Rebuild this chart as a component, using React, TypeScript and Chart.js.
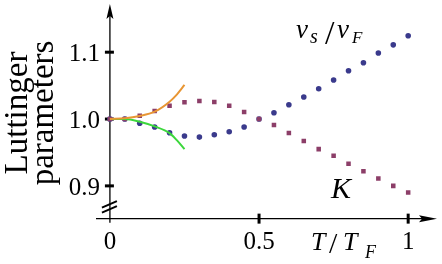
import React, { useEffect, useRef } from "react";
import { Chart, registerables } from "chart.js";

Chart.register(...registerables);

const temps = [0, 0.05, 0.1, 0.15, 0.2, 0.25, 0.3, 0.35, 0.4, 0.45, 0.5, 0.55, 0.6, 0.65, 0.7, 0.75, 0.8, 0.85, 0.9, 0.95, 1.0];
const velocityRatio = [1.0, 1.0, 0.9936, 0.988, 0.9795, 0.9746, 0.973, 0.9765, 0.981, 0.988, 1.0, 1.0094, 1.0214, 1.033, 1.0453, 1.0583, 1.0722, 1.0842, 1.0987, 1.111, 1.1246];
const luttingerK = [1.0, 1.0, 1.005, 1.012, 1.02, 1.025, 1.027, 1.0255, 1.02, 1.0105, 1.0, 0.991, 0.979, 0.967, 0.955, 0.945, 0.933, 0.922, 0.911, 0.9, 0.89];

const curveT = [0, 0.05, 0.1, 0.15, 0.2, 0.225, 0.25];
const orangeCurve = [1.0, 1.001, 1.0045, 1.011, 1.026, 1.037, 1.051];
const greenCurve = [1.0, 1.0, 0.996, 0.989, 0.979, 0.968, 0.955];

const yTitleLines = ["Luttinger", "parameters"];
const yTicks = [0.9, 1.0, 1.1];
const yTickLabels = ["0.9", "1.0", "1.1"];
const xTickLabels = [
  { v: 0, t: "0", tick: false },
  { v: 0.5, t: "0.5", tick: true },
  { v: 1, t: "1", tick: true },
];

const SERIF = '"Liberation Serif", "Times New Roman", "DejaVu Serif", serif';

function drawText(
  ctx: CanvasRenderingContext2D,
  text: string,
  x: number,
  y: number,
  size: number,
  italic: boolean,
  align: CanvasTextAlign
) {
  ctx.save();
  ctx.font = `${italic ? "italic " : ""}${size}px ${SERIF}`;
  ctx.textAlign = align;
  ctx.textBaseline = "alphabetic";
  ctx.fillStyle = "#000";
  ctx.fillText(text, x, y);
  ctx.restore();
}

const axesPlugin = {
  id: "customAxes",
  beforeDatasetsDraw(chart: any) {
    const ctx = chart.ctx as CanvasRenderingContext2D;
    const xs = chart.scales.x;
    const ys = chart.scales.y;
    const x0 = xs.getPixelForValue(0);
    const yBase = ys.getPixelForValue(0.851);
    ctx.save();
    ctx.strokeStyle = "#000";
    ctx.fillStyle = "#000";
    ctx.lineWidth = 1.3;
    ctx.beginPath();
    ctx.moveTo(x0, yBase + 4);
    ctx.lineTo(x0, 12);
    ctx.stroke();
    ctx.beginPath();
    ctx.moveTo(x0, 4);
    ctx.lineTo(x0 - 3.5, 19);
    ctx.lineTo(x0, 16);
    ctx.lineTo(x0 + 3.5, 19);
    ctx.closePath();
    ctx.fill();
    ctx.beginPath();
    ctx.moveTo(96, yBase);
    ctx.lineTo(428, yBase);
    ctx.stroke();
    ctx.beginPath();
    ctx.moveTo(437, yBase);
    ctx.lineTo(419, yBase - 3.5);
    ctx.lineTo(422, yBase);
    ctx.lineTo(419, yBase + 3.5);
    ctx.closePath();
    ctx.fill();
    ctx.lineWidth = 3;
    yTicks.forEach((v) => {
      const py = ys.getPixelForValue(v);
      ctx.beginPath();
      ctx.moveTo(x0 - 5, py);
      ctx.lineTo(x0 + 4, py);
      ctx.stroke();
    });
    xTickLabels.forEach((tk) => {
      if (!tk.tick) return;
      const px = xs.getPixelForValue(tk.v);
      ctx.beginPath();
      ctx.moveTo(px, yBase - 5);
      ctx.lineTo(px, yBase + 5);
      ctx.stroke();
    });
    const yb = ys.getPixelForValue(0.872);
    ctx.lineWidth = 2;
    ctx.beginPath();
    ctx.moveTo(x0 - 8, yb + 3);
    ctx.lineTo(x0 + 7, yb - 3.5);
    ctx.moveTo(x0 - 8, yb + 8);
    ctx.lineTo(x0 + 7, yb + 1.5);
    ctx.stroke();
    ctx.restore();
  },
  afterDraw(chart: any) {
    const ctx = chart.ctx as CanvasRenderingContext2D;
    const xs = chart.scales.x;
    const ys = chart.scales.y;
    yTicks.forEach((v, i) => {
      drawText(ctx, yTickLabels[i], 100, ys.getPixelForValue(v) + 9, 25, false, "right");
    });
    xTickLabels.forEach((tk) => {
      drawText(ctx, tk.t, xs.getPixelForValue(tk.v), 249, 25, false, "center");
    });
    ctx.save();
    ctx.translate(27, 113);
    ctx.rotate(-Math.PI / 2);
    drawText(ctx, yTitleLines[0], 0, 0, 33, false, "center");
    drawText(ctx, yTitleLines[1], 0, 26, 33, false, "center");
    ctx.restore();
    drawText(ctx, "v", 296, 38, 27, true, "left");
    drawText(ctx, "s", 310, 43, 20, true, "left");
    drawText(ctx, "/", 325, 44, 34, false, "left");
    drawText(ctx, "v", 337, 38, 27, true, "left");
    drawText(ctx, "F", 352, 43, 17, true, "left");
    drawText(ctx, "K", 331, 198, 30, true, "left");
    drawText(ctx, "T", 311, 250, 26, true, "left");
    drawText(ctx, "/", 329, 253, 30, false, "left");
    drawText(ctx, "T", 343, 250, 26, true, "left");
    drawText(ctx, "F", 365, 258, 18, true, "left");
  },
};

export default function App() {
  const ref = useRef<HTMLCanvasElement | null>(null);
  useEffect(() => {
    document.body.style.margin = "0";
    document.body.style.fontFamily = SERIF;
    const canvas = ref.current;
    if (!canvas) return;
    const chart = new Chart(canvas, {
      type: "scatter",
      data: {
        datasets: [
          {
            label: "orange",
            data: curveT.map((t, i) => ({ x: t, y: orangeCurve[i] })),
            showLine: true,
            borderColor: "rgb(232,150,52)",
            borderWidth: 2,
            pointRadius: 0,
            cubicInterpolationMode: "monotone",
            fill: false,
          },
          {
            label: "green",
            data: curveT.map((t, i) => ({ x: t, y: greenCurve[i] })),
            showLine: true,
            borderColor: "rgb(60,215,60)",
            borderWidth: 2,
            pointRadius: 0,
            cubicInterpolationMode: "monotone",
            fill: false,
          },
          {
            label: "K",
            data: temps.map((t, i) => ({ x: t, y: luttingerK[i] })),
            showLine: false,
            pointStyle: "rect",
            pointRadius: 3.2,
            backgroundColor: "rgb(140,62,104)",
            borderWidth: 0,
          },
          {
            label: "vs/vF",
            data: temps.map((t, i) => ({ x: t, y: velocityRatio[i] })),
            showLine: false,
            pointStyle: "circle",
            pointRadius: 2.8,
            backgroundColor: "rgb(58,58,140)",
            borderWidth: 0,
          },
        ],
      },
      options: {
        animation: false,
        responsive: false,
        layout: { padding: { left: 95, right: 0, top: 5.4, bottom: 44.7 } },
        plugins: { legend: { display: false }, tooltip: { enabled: false } },
        scales: {
          x: { type: "linear", min: -0.05, max: 1.1, display: false },
          y: { type: "linear", min: 0.85, max: 1.17, display: false },
        },
      },
      plugins: [axesPlugin],
    });
    let alive = true;
    const redraw = () => {
      if (alive) chart.draw();
    };
    const fonts = (document as any).fonts;
    if (fonts) {
      Promise.all([fonts.load('25px "Liberation Serif"'), fonts.load('italic 25px "Liberation Serif"')])
        .catch(() => null)
        .then(redraw);
      fonts.ready.then(redraw);
    }
    const timers = [50, 200, 600].map((ms) => setTimeout(redraw, ms));
    return () => {
      alive = false;
      timers.forEach(clearTimeout);
      chart.destroy();
    };
  }, []);
  return (
    <div style={{ width: 442, height: 264 }}>
      <canvas ref={ref} width={442} height={264} style={{ display: "block" }} />
    </div>
  );
}
